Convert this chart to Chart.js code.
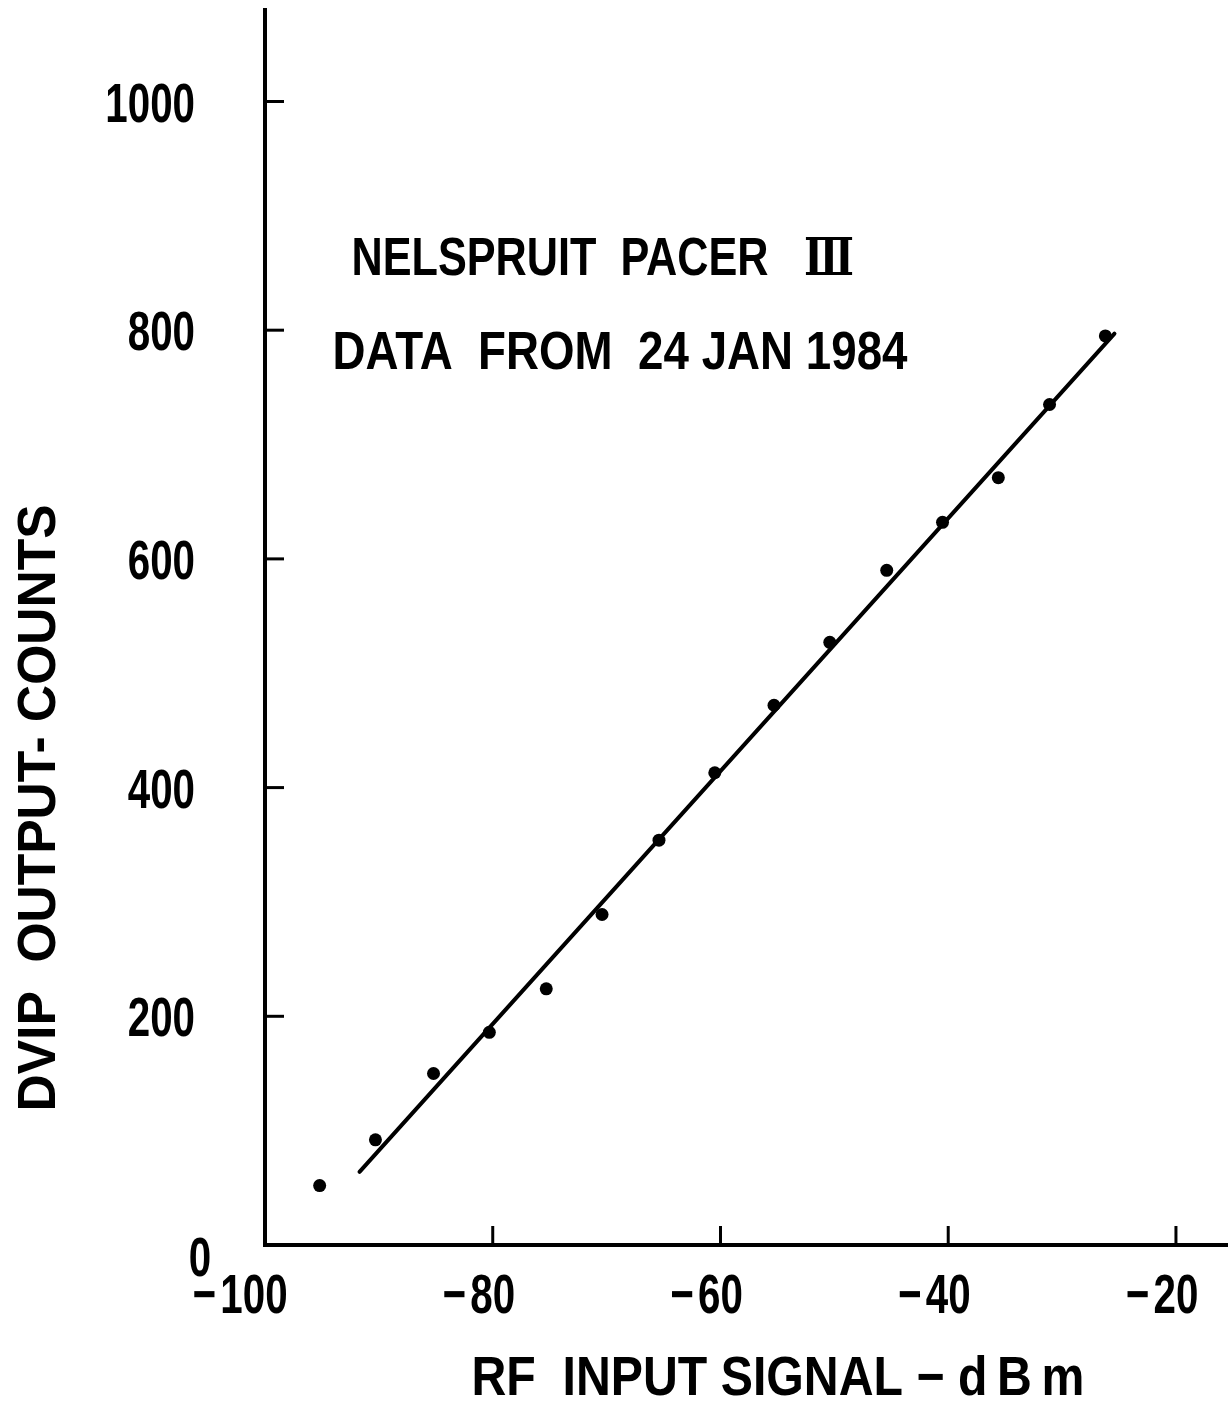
<!DOCTYPE html>
<html>
<head>
<meta charset="utf-8">
<script src="https://cdn.jsdelivr.net/npm/chart.js@4.4.1/dist/chart.umd.min.js"></script>
<style>
  html, body { margin: 0; padding: 0; background: #fff; }
  #c { display: block; }
</style>
</head>
<body>
<canvas id="c" width="1228" height="1421"></canvas>
<script>
// values: RF input (dBm) vs DVIP output (counts)
const rfInput    = [-95.2, -90.3, -85.2, -80.3, -75.3, -70.4, -65.4, -60.5, -55.3, -50.4, -45.4, -40.5, -35.6, -31.1, -26.2];
const dvipCounts = [52, 92, 150, 186, 224, 289, 354, 413, 472, 527, 590, 632, 671, 735, 795];

// the straight line drawn through the points
const fitX = [-91.7, -25.4];
const fitY = [64, 797];

const xTicks = [-100, -80, -60, -40, -20];
const yTicks = [0, 200, 400, 600, 800, 1000];

const xTitle = 'RF  INPUT SIGNAL \u2212 d\u2009B\u2009m';
const yTitle = 'DVIP  OUTPUT- COUNTS';
const notes  = ['NELSPRUIT  PACER', '\u2162', 'DATA  FROM  24 JAN 1984'];

const FONT = '"Liberation Sans", "DejaVu Sans", sans-serif';
const SX = 0.72;   // the lettering on the original is narrow

// draws text with its cap-height centred on y; squeezes to width if given
function putText(ctx, txt, x, y, size, width, opt = {}) {
  ctx.save();
  ctx.font = `bold ${size}px ${opt.font || FONT}`;
  const w = ctx.measureText(txt).width;
  const sx = width ? width / w : SX;
  ctx.translate(x, y);
  if (opt.rot) ctx.rotate(opt.rot);
  ctx.scale(sx, 1);
  ctx.textAlign = opt.align || 'center';
  ctx.textBaseline = 'alphabetic';
  ctx.fillStyle = '#000';
  ctx.fillText(txt, 0, size * 0.358);
  ctx.restore();
  return w * sx;
}

function textW(ctx, txt, size) {
  ctx.save();
  ctx.font = `bold ${size}px ${FONT}`;
  const w = ctx.measureText(txt).width * SX;
  ctx.restore();
  return w;
}

const paperAxes = {
  id: 'paperAxes',
  afterDatasetsDraw(chart) {
    const { ctx, chartArea: a, scales: { x, y } } = chart;
    ctx.save();
    ctx.strokeStyle = '#000';

    // axis lines
    ctx.lineWidth = 4;
    ctx.lineCap = 'square';
    ctx.beginPath();
    ctx.moveTo(a.left, a.top);
    ctx.lineTo(a.left, a.bottom);
    ctx.lineTo(chart.width, a.bottom);
    ctx.stroke();

    // inward tick marks
    ctx.lineWidth = 3;
    ctx.lineCap = 'butt';
    x.ticks.forEach(t => {
      if (t.value === x.min) return;
      const px = x.getPixelForValue(t.value);
      ctx.beginPath();
      ctx.moveTo(px, a.bottom);
      ctx.lineTo(px, a.bottom - 19);
      ctx.stroke();
    });
    y.ticks.forEach(t => {
      if (t.value === y.min) return;
      const py = y.getPixelForValue(t.value);
      ctx.beginPath();
      ctx.moveTo(a.left, py);
      ctx.lineTo(a.left + 19, py);
      ctx.stroke();
    });
    ctx.restore();

    // tick labels
    const fs = 56;
    y.ticks.forEach(t => {
      const py = y.getPixelForValue(t.value);
      if (t.value === 0) {
        putText(ctx, '0', a.left - 65, py + 11, fs, 0);
      } else {
        putText(ctx, String(t.value), a.left - 70, py, fs, 0, { align: 'right' });
      }
    });
    x.ticks.forEach(t => {
      const px = x.getPixelForValue(t.value);
      const digits = String(Math.abs(t.value));
      const dw = textW(ctx, digits, fs);
      const cx = t.value === x.min ? px - 11 : px;
      putText(ctx, digits, cx, a.bottom + 48, fs, 0);
      if (t.value < 0) putText(ctx, '\u2212', cx - dw / 2 - 4, a.bottom + 48, fs, 0, { align: 'right' });
    });

    // axis titles
    putText(ctx, yTitle, 36, 808, 53, 607, { rot: -Math.PI / 2 });
    putText(ctx, xTitle, 778, 1375, 55, 613);

    // notes on the plot
    putText(ctx, notes[0], 560, 256, 53, 417);
    putText(ctx, notes[1], 829, 256, 53, 50, { font: '"DejaVu Serif", serif' });
    putText(ctx, notes[2], 620, 350, 53, 575);
  }
};

new Chart(document.getElementById('c'), {
  type: 'scatter',
  data: {
    datasets: [
      {
        label: 'measured',
        data: rfInput.map((v, i) => ({ x: v, y: dvipCounts[i] })),
        showLine: false,
        pointRadius: 6.5,
        pointHoverRadius: 6.5,
        pointBackgroundColor: '#000',
        pointBorderWidth: 0
      },
      {
        label: 'fit',
        data: fitX.map((v, i) => ({ x: v, y: fitY[i] })),
        showLine: true,
        borderColor: '#000',
        borderWidth: 4,
        borderCapStyle: 'round',
        pointRadius: 0,
        fill: false
      }
    ]
  },
  options: {
    responsive: false,
    animation: false,
    events: [],
    devicePixelRatio: 1,
    layout: { padding: { left: 265, right: 0, top: 10, bottom: 176 } },
    plugins: { legend: { display: false }, tooltip: { enabled: false } },
    scales: {
      x: {
        type: 'linear', min: -100, max: -16.0,
        grid: { display: false, drawTicks: false },
        border: { display: false },
        ticks: { display: false },
        afterBuildTicks: s => { s.ticks = xTicks.map(v => ({ value: v })); }
      },
      y: {
        type: 'linear', min: 0, max: 1080,
        grid: { display: false, drawTicks: false },
        border: { display: false },
        ticks: { display: false },
        afterBuildTicks: s => { s.ticks = yTicks.map(v => ({ value: v })); }
      }
    }
  },
  plugins: [paperAxes]
});
</script>
</body>
</html>
